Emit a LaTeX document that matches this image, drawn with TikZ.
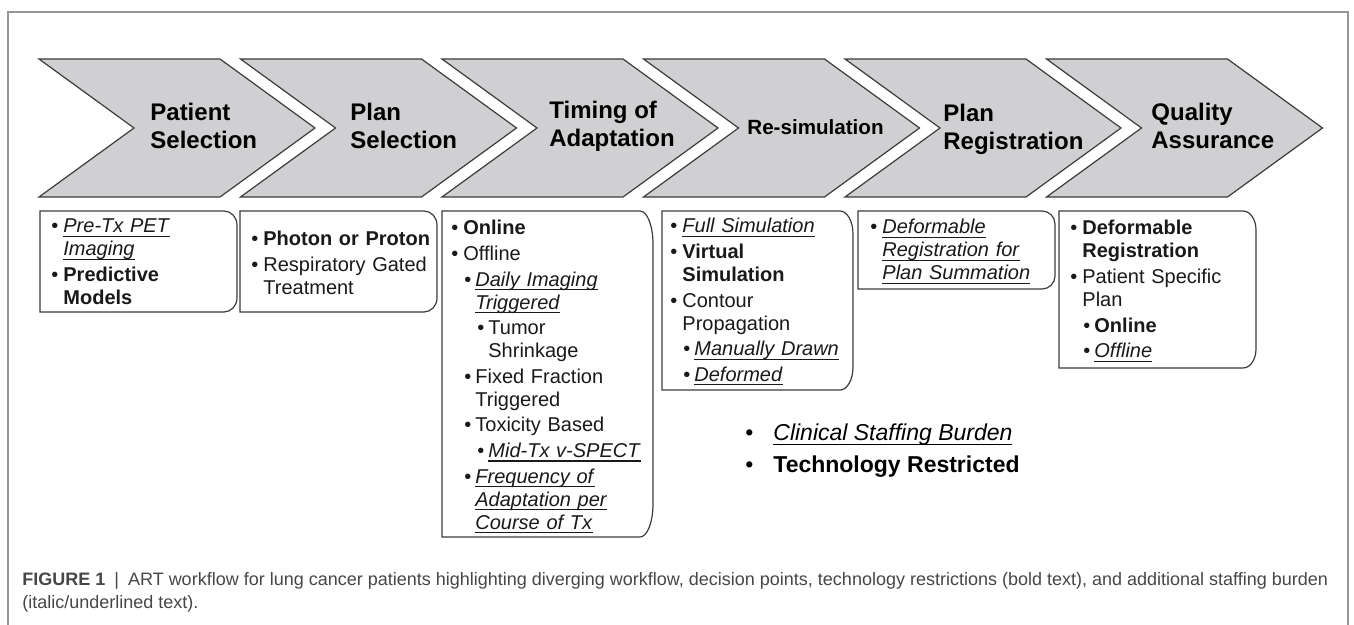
\documentclass[tikz,border=0pt]{standalone}
\usepackage{fontspec}
\setmainfont{Liberation Sans}
\usepackage{xcolor}
\usetikzlibrary{positioning}

\definecolor{chevgray}{RGB}{208,207,209}
\definecolor{edgegray}{RGB}{60,60,60}
\definecolor{framegray}{RGB}{150,150,150}
\definecolor{capgray}{RGB}{70,70,70}

% bullet paragraph: bullet indent, text indent, text
\newcommand{\itm}[3]{\par\hangindent=#2\hangafter=1\noindent\hspace*{#1}\makebox[\dimexpr#2-#1\relax][l]{\textbullet}#3\par}
\newcommand{\bulA}[1]{\itm{0pt}{6pt}{#1}}
\newcommand{\bulB}[1]{\itm{6.5pt}{12pt}{#1}}
\newcommand{\bulC}[1]{\itm{13pt}{18.5pt}{#1}}
% staffing burden: italic and underlined
\newcommand{\stf}[1]{\setbox0\hbox{\textit{#1}}\rlap{\rule[-0.2em]{\wd0}{0.06em}}\box0}

\begin{document}
\begin{tikzpicture}[x=0.5pt,y=-0.5pt,
chev/.style={draw=edgegray,fill=chevgray,line width=0.6pt},
card/.style={draw=edgegray,line width=0.6pt},
head/.style={font=\bfseries\fontsize{12}{14}\selectfont,align=left,anchor=west,inner sep=0pt},
body/.style={font=\fontsize{10}{11.5}\selectfont,text=black!90,align=left,anchor=north west,inner sep=0pt,
    text width=100pt,execute at begin node={\setlength{\parskip}{1.3pt}\hyphenpenalty=10000}}]
\useasboundingbox (0,0) rectangle (1354,625);
\draw[framegray,line width=0.6pt] (8,625) |- (1348,12) -- (1348,625);

% workflow chevrons
\foreach \i in {0,...,5}
  \draw[chev] ({39+201.5*\i},59) -- ++(181,0) -- ++(95,69) -- ++(-95,69)
    -- ++(-181,0) -- ++(95,-69) -- cycle;

\node (patsel) [head] at (150,126) {Patient\\Selection};
\node (plansel) [head] at (350,126) {Plan\\Selection};
\node (timing) [head] at (549,126) {Timing of\\Adaptation};
\node (resim) [head,font=\bfseries\fontsize{10.3}{12}\selectfont] at (747,127) {Re-simulation};
\node (planreg) [head] at (943,129) {Plan\\Registration};
\node (qa) [head] at (1151,126) {Quality\\Assurance};

% detail cards, rounded on the right side only
\foreach \xa/\xb/\yb/\ry in {40/237/312/14, 240/437/312/14, 442/653/537/33,
    662/853/390/23, 858/1055/289/13, 1059/1256/368/19}
  \draw[card] (\xa,211) -- (\xb-13,211)
    arc[start angle=-90,end angle=0,x radius=13,y radius=\ry] -- (\xb,\yb-\ry)
    arc[start angle=0,end angle=90,x radius=13,y radius=\ry] -- (\xa,\yb) -- cycle;

\node (patbox) [body] at (51,207) {%
  \bulA{\stf{Pre-Tx PET}\newline\stf{Imaging}}
  \bulA{\textbf{Predictive}\newline\textbf{Models}}};
\node (planbox) [body] at (251,220) {%
  \bulA{\textbf{Photon or Proton}}
  \bulA{Respiratory Gated\newline Treatment}};
\node (timebox) [body] at (451,209) {%
  \bulA{\textbf{Online}}
  \bulA{Offline}
  \bulB{\stf{Daily Imaging}\newline\stf{Triggered}}
  \bulC{Tumor\newline Shrinkage}
  \bulB{Fixed Fraction\newline Triggered}
  \bulB{Toxicity Based}
  \bulC{\stf{Mid-Tx v-SPECT}}
  \bulB{\stf{Frequency of}\newline\stf{Adaptation per}\newline\stf{Course of Tx}}};
\node (resimbox) [body] at (670,207) {%
  \bulA{\stf{Full Simulation}}
  \bulA{\textbf{Virtual}\newline\textbf{Simulation}}
  \bulA{Contour\newline Propagation}
  \bulB{\stf{Manually Drawn}}
  \bulB{\stf{Deformed}}};
\node (regbox) [body] at (870,208) {%
  \bulA{\stf{Deformable}\newline\stf{Registration for}\newline\stf{Plan Summation}}};
\node (qabox) [body] at (1070,209) {%
  \bulA{\textbf{Deformable}\newline\textbf{Registration}}
  \bulA{Patient Specific\newline Plan}
  \bulB{\textbf{Online}}
  \bulB{\stf{Offline}}};

% key
\node (key) [anchor=west,align=left,inner sep=0pt,font=\fontsize{11.5}{16}\selectfont]
  at (745,451) {\makebox[14pt][l]{\textbullet}\stf{Clinical Staffing Burden}\\
  \makebox[14pt][l]{\textbullet}\textbf{Technology Restricted}};

\node (caption) [anchor=west,align=left,inner sep=0pt,text=capgray,font=\fontsize{9}{11.5}\selectfont]
  at (22,592) {\textbf{FIGURE 1}\enspace|\enspace ART workflow for lung cancer patients highlighting diverging workflow, decision points, technology restrictions (bold text), and additional staffing burden\\
  (italic/underlined text).};
\end{tikzpicture}
\end{document}
